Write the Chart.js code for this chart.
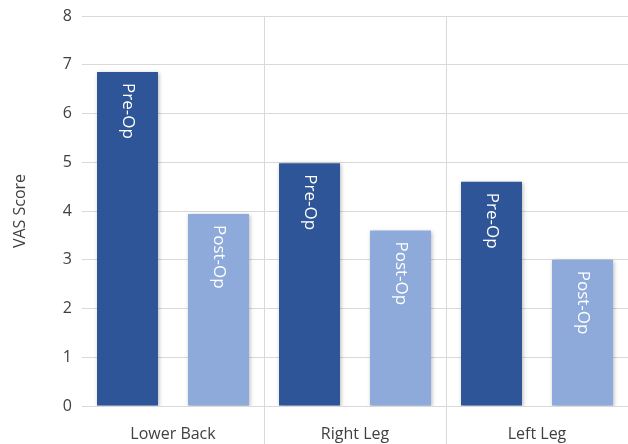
<!DOCTYPE html>
<html>
<head>
<meta charset="utf-8">
<script src="https://cdn.jsdelivr.net/npm/chart.js@4/dist/chart.umd.min.js"></script>
<style>
  html, body { margin: 0; padding: 0; background: #fff; }
  .chart-container { width: 628px; height: 444px; }
</style>
</head>
<body>
<div class="chart-container">
  <canvas id="vasChart"></canvas>
</div>
<script>
// data
const categories = ["Lower Back", "Right Leg", "Left Leg"];
const preOp = [6.85, 4.98, 4.6];
const postOp = [3.94, 3.6, 3.0];
const seriesNames = ["Pre-Op", "Post-Op"];
const yTicks = [0, 1, 2, 3, 4, 5, 6, 7, 8];

const FONT = "'Open Sans', 'Noto Sans', sans-serif";
const TEXT = "#404040";
const GRID = "#d9d9d9";

// soft shadow behind the bars
const barShadow = {
  id: "barShadow",
  beforeDatasetsDraw(chart) {
    const ctx = chart.ctx;
    ctx.save();
    ctx.shadowColor = "rgba(0,0,0,0.28)";
    ctx.shadowBlur = 4;
    ctx.shadowOffsetX = 1;
    ctx.shadowOffsetY = 1;
  },
  afterDatasetsDraw(chart) {
    chart.ctx.restore();
  }
};

// rotated series name inside the top of each bar
const innerLabels = {
  id: "innerLabels",
  afterDatasetsDraw(chart) {
    const ctx = chart.ctx;
    chart.data.datasets.forEach((ds, i) => {
      chart.getDatasetMeta(i).data.forEach(bar => {
        ctx.save();
        ctx.translate(bar.x, bar.y + 11);
        ctx.rotate(Math.PI / 2);
        ctx.font = "17px " + FONT;
        ctx.fillStyle = "#ffffff";
        ctx.textAlign = "left";
        ctx.textBaseline = "middle";
        ctx.fillText(ds.label, 0, 0);
        ctx.restore();
      });
    });
  }
};

new Chart(document.getElementById("vasChart").getContext("2d"), {
  type: "bar",
  data: {
    labels: categories,
    datasets: [
      { label: seriesNames[0], data: preOp, backgroundColor: "#2e5597" },
      { label: seriesNames[1], data: postOp, backgroundColor: "#8eaadb" }
    ]
  },
  options: {
    responsive: true,
    maintainAspectRatio: false,
    animation: false,
    categoryPercentage: 1.0,
    barPercentage: 0.67,
    layout: { padding: 0 },
    plugins: {
      legend: { display: false },
      tooltip: { enabled: false }
    },
    scales: {
      x: {
        border: { display: false },
        afterFit: axis => { axis.height = 38; },
        grid: {
          offset: true,
          color: ctx => ctx.index === 0 ? "rgba(0,0,0,0)" : GRID,
          tickLength: 38
        },
        ticks: {
          color: TEXT,
          font: { family: FONT, size: 16 },
          padding: -19
        }
      },
      y: {
        min: 0,
        max: 8,
        border: { display: false },
        afterFit: axis => { axis.width = 82; axis.paddingTop = 16; },
        afterBuildTicks: axis => { axis.ticks = yTicks.map(v => ({ value: v })); },
        grid: { color: GRID, drawTicks: false },
        ticks: {
          color: TEXT,
          font: { family: FONT, size: 16 },
          padding: 10
        },
        title: {
          display: true,
          text: "VAS Score",
          color: TEXT,
          font: { family: FONT, size: 16 },
          padding: { top: 11, bottom: 0 }
        }
      }
    }
  },
  plugins: [barShadow, innerLabels]
});
</script>
</body>
</html>
